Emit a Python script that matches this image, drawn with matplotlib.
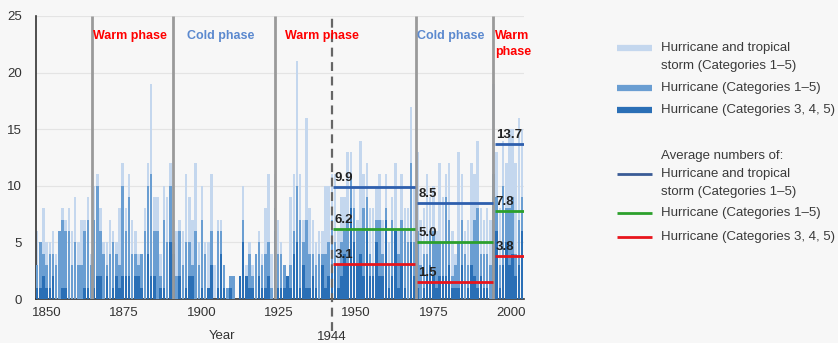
import numpy as np
import matplotlib
matplotlib.use('Agg')
from matplotlib import pyplot as plt
from matplotlib.lines import Line2D

plt.rcParams['font.family'] = ['Liberation Sans', 'DejaVu Sans']

# yearly counts, 1851-2004
years = np.arange(1851, 2005)
storms = [6, 5, 8, 5, 5, 6, 4, 6, 8, 7, 8, 6, 9, 5, 7, 7, 9, 4, 10, 11,
          8, 5, 5, 7, 6, 5, 8, 12, 8, 11, 7, 6, 4, 4, 8, 12, 19, 9, 9, 4,
          10, 9, 12, 7, 6, 7, 6, 11, 9, 7, 12, 5, 10, 5, 5, 11, 3, 7, 7, 3,
          1, 2, 2, 0, 2, 10, 3, 5, 3, 4, 6, 4, 8, 11, 4, 11, 7, 5, 3, 2,
          9, 11, 21, 11, 7, 16, 8, 7, 5, 6, 6, 10, 10, 11, 11, 6, 9, 9, 13, 13,
          10, 7, 14, 11, 12, 8, 8, 10, 11, 7, 11, 5, 9, 12, 6, 11, 8, 8, 17, 10,
          13, 7, 8, 11, 9, 10, 6, 12, 9, 11, 12, 6, 4, 13, 11, 6, 7, 12, 11, 14,
          8, 7, 8, 7, 19, 13, 8, 14, 12, 15, 15, 12, 16, 15]
hurricanes = [3, 5, 4, 3, 4, 4, 3, 6, 7, 6, 6, 3, 5, 3, 3, 6, 7, 3, 7, 10,
              6, 4, 3, 4, 5, 4, 3, 10, 6, 9, 4, 4, 3, 4, 6, 10, 11, 6, 6, 2,
              7, 5, 10, 5, 2, 6, 3, 5, 5, 3, 6, 3, 7, 4, 1, 6, 0, 6, 6, 3,
              1, 2, 2, 0, 2, 7, 2, 4, 2, 4, 5, 3, 4, 5, 1, 8, 4, 4, 3, 2,
              3, 6, 10, 7, 5, 7, 4, 4, 3, 4, 4, 4, 5, 7, 5, 3, 5, 6, 7, 11,
              8, 6, 6, 8, 9, 4, 3, 7, 7, 4, 8, 3, 7, 6, 4, 7, 6, 5, 12, 5,
              6, 3, 4, 4, 6, 6, 5, 5, 5, 9, 7, 2, 3, 5, 7, 4, 3, 5, 7, 8,
              4, 4, 4, 3, 11, 9, 3, 10, 8, 8, 9, 4, 7, 9]
major = [1, 1, 2, 1, 1, 2, 0, 0, 1, 1, 0, 0, 0, 0, 0, 1, 1, 0, 1, 2,
         2, 0, 2, 0, 1, 2, 1, 2, 2, 2, 0, 2, 2, 1, 0, 4, 2, 2, 0, 1,
         1, 0, 5, 4, 0, 2, 0, 1, 2, 2, 0, 0, 1, 0, 1, 3, 0, 1, 4, 1,
         0, 1, 0, 0, 2, 5, 2, 1, 1, 0, 2, 1, 1, 2, 0, 6, 1, 1, 1, 2,
         1, 4, 5, 1, 3, 1, 1, 2, 1, 0, 3, 1, 2, 3, 3, 1, 2, 4, 3, 8,
         5, 3, 4, 2, 6, 2, 2, 5, 2, 2, 7, 1, 2, 6, 1, 3, 1, 0, 5, 2,
         1, 0, 1, 2, 3, 2, 1, 2, 2, 2, 3, 1, 1, 1, 3, 0, 1, 3, 2, 1,
         2, 1, 1, 0, 5, 6, 1, 3, 5, 3, 4, 2, 3, 6]

phase_bounds = [1868.4, 1893.8, 1926.1, 1970.6, 1994.9]
phase_names = ['Warm phase', 'Cold phase', 'Warm phase', 'Cold phase', 'Warm\nphase']
shift_year = 1944

avg_start = [1944.5, 1970.9, 1995.3]
avg_end = [1970.3, 1994.7, 2004.6]
avg_storms = [9.9, 8.5, 13.7]
avg_hurr = [6.2, 5.0, 7.8]
avg_major = [3.1, 1.5, 3.8]

tick_years = [1850, 1875, 1900, 1925, 1950, 1975, 2000]

c_light = '#c4d7ee'
c_mid = '#6a9ed2'
c_dark = '#2a6fb6'
c_avg = ['#2e5fae', '#2ca02c', '#e8151c']
bg = '#f7f7f7'

fig = plt.figure(figsize=(8.38, 3.43), dpi=100, facecolor=bg)
ax = fig.add_axes([36 / 838, 1 - 299 / 343, 488 / 838, 283 / 343])
ax.set_facecolor(bg)

ax.bar(years, storms, width=0.8, color=c_light, zorder=2)
ax.bar(years, hurricanes, width=0.8, color=c_mid, zorder=3)
ax.bar(years, major, width=0.8, color=c_dark, zorder=4)

ax.set_xlim(1850.65, 2004.6)
ax.set_ylim(0, 25)

for b in phase_bounds:
    ax.plot([b, b], [0, 25], color='#9a9a9a', lw=2.0, zorder=5, solid_capstyle='butt')
ax.plot([shift_year, shift_year], [-2.8, 25], color='#666666', lw=1.6,
        ls=(0, (4, 2.5)), zorder=5, clip_on=False)

label_x = [1868.7, 1898.3, 1929.2, 1970.9, 1995.4]
for x, name in zip(label_x, phase_names):
    col = '#ff0000' if name.startswith('Warm') else '#5b89cf'
    ax.text(x, 23.75, name, color=col, fontsize=9, fontweight='bold',
            ha='left', va='top', linespacing=1.45, zorder=6)

for i in range(3):
    for vals, col in zip([avg_storms, avg_hurr, avg_major], c_avg):
        ax.plot([avg_start[i], avg_end[i]], [vals[i], vals[i]], color=col,
                lw=2.0, zorder=6, solid_capstyle='butt')
        ax.text(avg_start[i] + 0.4, vals[i] + 0.8, f'{vals[i]:.1f}',
                fontsize=9.5, fontweight='bold', color='#222222',
                ha='left', va='center', zorder=7)

ax.set_yticks([0, 5, 10, 15, 20, 25])
ax.yaxis.grid(True, color='#e4e4e4', lw=0.8, zorder=0)
ax.set_xticks([1854.06 + (t - 1850) * 0.976 for t in tick_years])
ax.set_xticklabels([str(t) for t in tick_years])
ax.tick_params(length=0, labelsize=9.5, colors='#333333')
ax.tick_params(axis='y', pad=10)
ax.tick_params(axis='x', pad=6)
for s in ['top', 'right']:
    ax.spines[s].set_visible(False)
for s in ['left', 'bottom']:
    ax.spines[s].set_color('#333333')
    ax.spines[s].set_linewidth(1.2)

W, H = 838, 343
fig.text(222 / W, 1 - 336 / H, 'Year', fontsize=9.5, color='#333333', ha='center', va='center')
fig.text(332 / W, 1 - 337 / H, '1944', fontsize=9.5, color='#333333', ha='center', va='center')

# legend drawn by hand
def handle(y, col, lw):
    fig.add_artist(Line2D([617 / W, 652 / W], [1 - y / H, 1 - y / H],
                          color=col, lw=lw, solid_capstyle='butt'))

def label(y, s):
    fig.text(660.5 / W, 1 - y / H, s, fontsize=9.5, color='#3a3a3a', ha='left', va='center')

handle(48.3, c_light, 4.5)
label(48.3, 'Hurricane and tropical')
label(65.7, 'storm (Categories 1–5)')
handle(88.3, c_mid, 4.5)
label(88.3, 'Hurricane (Categories 1–5)')
handle(110, c_dark, 4.5)
label(110, 'Hurricane (Categories 3, 4, 5)')
label(155.7, 'Average numbers of:')
handle(173.5, '#3a5b96', 2.0)
label(173.7, 'Hurricane and tropical')
label(191.7, 'storm (Categories 1–5)')
handle(213.3, c_avg[1], 2.0)
label(213.3, 'Hurricane (Categories 1–5)')
handle(236.7, c_avg[2], 2.0)
label(236.7, 'Hurricane (Categories 3, 4, 5)')

fig.savefig('out.png', dpi=100, facecolor=bg)
